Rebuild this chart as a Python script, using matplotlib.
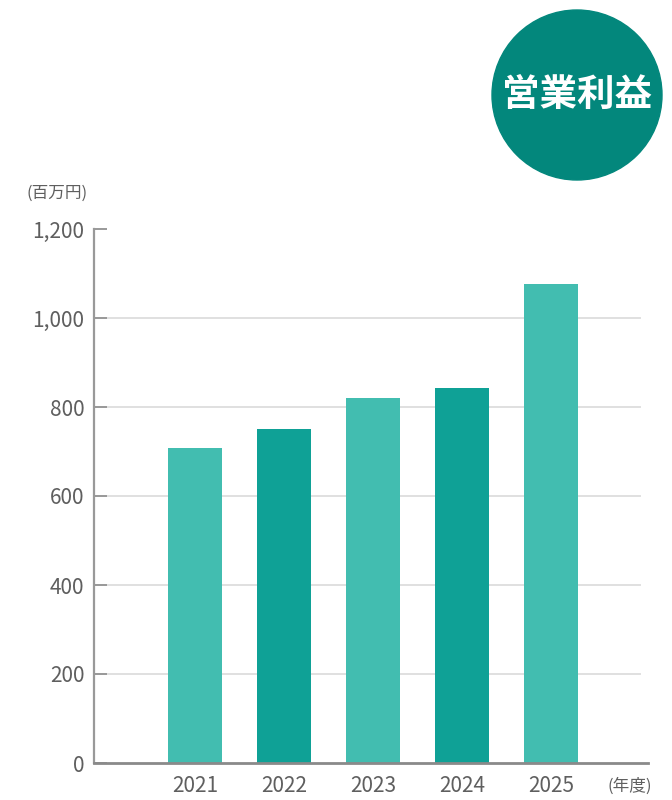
import matplotlib
matplotlib.use("Agg")
import matplotlib.pyplot as plt
from matplotlib.patches import Ellipse

plt.rcParams['font.family'] = ['Noto Sans CJK JP', 'DejaVu Sans']

# data
years = ["2021", "2022", "2023", "2024", "2025"]
profit = [708, 750, 820, 843, 1076]
bar_colors = ["#42bdb0", "#0fa196", "#42bdb0", "#0fa196", "#42bdb0"]
y_ticks = [0, 200, 400, 600, 800, 1000, 1200]
y_labels = ["0", "200", "400", "600", "800", "1,000", "1,200"]

title = "営業利益"
unit_label = "(百万円)"
year_label = "(年度)"

text_gray = "#5f5f5f"
axis_gray = "#999999"
grid_gray = "#e0e0e0"

fig = plt.figure(figsize=(6.72, 8.0), dpi=100)
ax = fig.add_axes([94 / 672, 1 - 763 / 800, (648 - 94) / 672, (763 - 229) / 800])

x = list(range(len(years)))
ax.bar(x, profit, width=0.607, color=bar_colors, zorder=3)

ax.set_xlim(-1.135, 5.09)
ax.set_ylim(0, 1200)

# light grid lines (none at the top)
for v in y_ticks[1:-1]:
    ax.axhline(v, xmin=0, xmax=(640 - 94) / (648 - 94), color=grid_gray, lw=1.4, zorder=1)

ax.set_yticks(y_ticks)
ax.set_yticklabels(y_labels)
ax.set_xticks(x)
ax.set_xticklabels(years)

ax.tick_params(axis="y", direction="in", length=9.5, width=1.4, color=axis_gray,
               labelsize=15, labelcolor=text_gray, pad=7)
ax.tick_params(axis="x", length=0, labelsize=15, labelcolor=text_gray, pad=9)

for side in ["top", "right"]:
    ax.spines[side].set_visible(False)
ax.spines["left"].set_color(axis_gray)
ax.spines["left"].set_linewidth(1.6)
ax.spines["bottom"].set_color("#8a8a8a")
ax.spines["bottom"].set_linewidth(2.0)
ax.spines["left"].set_zorder(4)
ax.spines["bottom"].set_zorder(4)

fig.text(26 / 672, 1 - 193 / 800, unit_label, fontsize=12, color=text_gray,
         ha="left", va="center")
ax.text(4.88, -32, year_label, fontsize=12, color=text_gray,
        ha="center", va="top")

# title badge
badge = Ellipse((577 / 672, 1 - 95 / 800), width=170 / 672, height=170 / 800,
                transform=fig.transFigure, color="#03877c", zorder=0)
fig.patches.append(badge)
fig.text(577 / 672, 1 - 94 / 800, title, fontsize=27, fontweight="bold",
         color="white", ha="center", va="center")

fig.savefig("out.png", dpi=100)
